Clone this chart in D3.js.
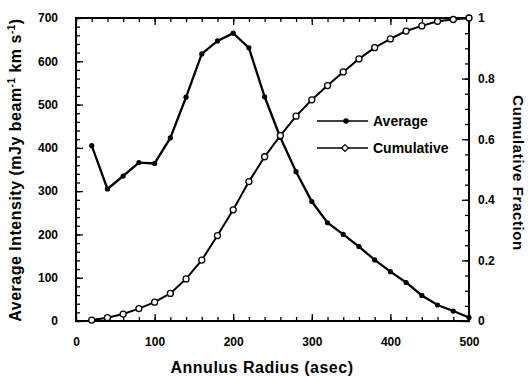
<!DOCTYPE html>
<html>
<head>
<meta charset="utf-8">
<script src="https://cdn.jsdelivr.net/npm/d3@7"></script>
<style>
  html, body { margin: 0; padding: 0; background: #fff; }
  svg { display: block; font-family: "Liberation Sans", Arial, Helvetica, sans-serif; }
</style>
</head>
<body>
<svg id="chart" width="529" height="377"></svg>
<script>
// ---- data ----
const radius = [20, 40, 60, 80, 100, 120, 140, 160, 180, 200, 220, 240, 260, 280, 300, 320, 340, 360, 380, 400, 420, 440, 460, 480, 500];
const averageIntensity = [405, 305, 335, 366, 364, 423, 517, 617, 647, 665, 631, 518, 424, 345, 276, 227, 200, 172, 141, 114, 89, 59, 37, 23, 8];
const cumulativeFraction = [0.003, 0.011, 0.023, 0.041, 0.062, 0.091, 0.139, 0.201, 0.282, 0.367, 0.46, 0.542, 0.612, 0.676, 0.73, 0.777, 0.822, 0.865, 0.902, 0.931, 0.957, 0.974, 0.989, 0.995, 1.0];
const xTicks = [0, 100, 200, 300, 400, 500];
const yLeftTicks = [0, 100, 200, 300, 400, 500, 600, 700];
const yRightTicks = [0, 0.2, 0.4, 0.6, 0.8, 1];
const seriesNames = ["Average", "Cumulative"];

// ---- layout ----
const svg = d3.select("#chart");
const L = 76, R = 469, T = 18, B = 321;
const x = d3.scaleLinear().domain([0, 500]).range([L, R]);
const yL = d3.scaleLinear().domain([0, 700]).range([B, T]);
const yR = d3.scaleLinear().domain([0, 1]).range([B, T]);

const tickFont = "bold 12px 'Liberation Sans', Arial, sans-serif";

function styleAxis(g) {
  g.select(".domain").remove();
  g.selectAll(".tick line").attr("stroke", "#000").attr("stroke-width", 1.3);
  g.selectAll(".tick text").style("font", tickFont).attr("fill", "#000");
}

// minor ticks
const minorX = d3.range(0, 501, 20);
const minorYL = d3.range(0, 701, 20);
const minorYR = d3.range(0, 1.0001, 0.05);

// bottom
svg.append("g").attr("transform", `translate(0,${B})`)
  .call(d3.axisBottom(x).tickValues(minorX).tickSize(-4).tickFormat("")).call(styleAxis);
svg.append("g").attr("transform", `translate(0,${B})`)
  .call(d3.axisBottom(x).tickValues(xTicks).tickSize(-7).tickPadding(16).tickFormat(d3.format("d"))).call(styleAxis);
// top
svg.append("g").attr("transform", `translate(0,${T})`)
  .call(d3.axisTop(x).tickValues(minorX).tickSize(-4).tickFormat("")).call(styleAxis);
svg.append("g").attr("transform", `translate(0,${T})`)
  .call(d3.axisTop(x).tickValues(xTicks).tickSize(-7).tickFormat("")).call(styleAxis);
// left
svg.append("g").attr("transform", `translate(${L},0)`)
  .call(d3.axisLeft(yL).tickValues(minorYL).tickSize(-4).tickFormat("")).call(styleAxis);
svg.append("g").attr("transform", `translate(${L},0)`)
  .call(d3.axisLeft(yL).tickValues(yLeftTicks).tickSize(-7).tickPadding(18).tickFormat(d3.format("d"))).call(styleAxis);
// right
svg.append("g").attr("transform", `translate(${R},0)`)
  .call(d3.axisRight(yR).tickValues(minorYR).tickSize(-4).tickFormat("")).call(styleAxis);
svg.append("g").attr("transform", `translate(${R},0)`)
  .call(d3.axisRight(yR).tickValues(yRightTicks).tickSize(-7).tickPadding(9).tickFormat(d => d === 0 || d === 1 ? String(d) : d3.format(".1f")(d))).call(styleAxis);

// frame
svg.append("rect").attr("x", L).attr("y", T).attr("width", R - L).attr("height", B - T)
  .attr("fill", "none").attr("stroke", "#000").attr("stroke-width", 2);

// series
const lineAvg = d3.line().x((d, i) => x(radius[i])).y(d => yL(d));
const lineCum = d3.line().x((d, i) => x(radius[i])).y(d => yR(d));

svg.append("path").datum(cumulativeFraction).attr("d", lineCum)
  .attr("fill", "none").attr("stroke", "#000").attr("stroke-width", 2);
svg.append("path").datum(averageIntensity).attr("d", lineAvg)
  .attr("fill", "none").attr("stroke", "#000").attr("stroke-width", 2.3);

svg.append("g").selectAll("circle").data(averageIntensity).join("circle")
  .attr("cx", (d, i) => x(radius[i])).attr("cy", d => yL(d)).attr("r", 2.6)
  .attr("fill", "#000");
svg.append("g").selectAll("circle").data(cumulativeFraction).join("circle")
  .attr("cx", (d, i) => x(radius[i])).attr("cy", d => yR(d)).attr("r", 3)
  .attr("fill", "#fff").attr("stroke", "#000").attr("stroke-width", 1.3);

// legend
const leg = svg.append("g");
const legY = [121, 148];
leg.append("line").attr("x1", 317).attr("x2", 368).attr("y1", legY[0]).attr("y2", legY[0])
  .attr("stroke", "#000").attr("stroke-width", 1.6);
leg.append("circle").attr("cx", 346).attr("cy", legY[0]).attr("r", 2.8).attr("fill", "#000");
leg.append("line").attr("x1", 317).attr("x2", 368).attr("y1", legY[1]).attr("y2", legY[1])
  .attr("stroke", "#000").attr("stroke-width", 1.3);
leg.append("path").attr("d", d3.symbol(d3.symbolDiamond2, 30)())
  .attr("transform", `translate(345,${legY[1]})`)
  .attr("fill", "#fff").attr("stroke", "#000").attr("stroke-width", 1.2);
leg.selectAll("text").data(seriesNames).join("text")
  .attr("x", 373).attr("y", (d, i) => legY[i] + 5)
  .style("font", "bold 14px 'Liberation Sans', Arial, sans-serif")
  .text(d => d);

// axis titles
const titleStyle = "bold 16px 'Liberation Sans', Arial, sans-serif";
svg.append("text").attr("x", 262).attr("y", 373).attr("text-anchor", "middle")
  .style("font", titleStyle).style("letter-spacing", "0.5px")
  .text("Annulus  Radius  (asec)");

const lt = svg.append("text").attr("transform", "translate(21,170) rotate(-90)")
  .attr("text-anchor", "middle").style("font", titleStyle).style("letter-spacing", "0.5px");
lt.append("tspan").text("Average Intensity (mJy beam");
lt.append("tspan").attr("dy", -6).style("font-size", "10px").text("-1");
lt.append("tspan").attr("dy", 6).text(" km s");
lt.append("tspan").attr("dy", -6).style("font-size", "10px").text("-1");
lt.append("tspan").attr("dy", 6).text(")");

svg.append("text").attr("transform", "translate(513,173) rotate(90)")
  .attr("text-anchor", "middle")
  .style("font", "bold 15px 'Liberation Sans', Arial, sans-serif").style("letter-spacing", "0.6px")
  .text("Cumulative  Fraction");
</script>
</body>
</html>
